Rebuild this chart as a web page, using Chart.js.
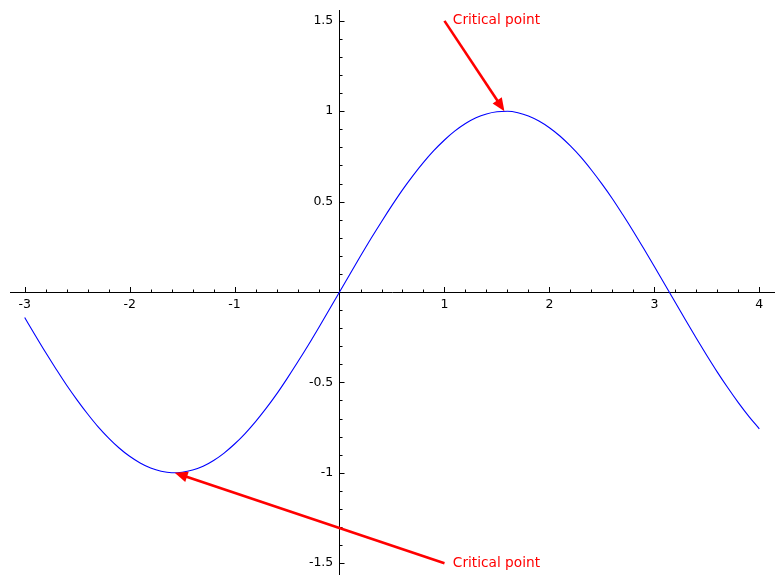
<!DOCTYPE html>
<html>
<head>
<meta charset="utf-8">
<script src="https://cdn.jsdelivr.net/npm/chart.js@4.4.1/dist/chart.umd.min.js"></script>
<style>
  body { margin: 0; background: #fff; }
  #wrap { width: 784px; height: 584px; }
</style>
</head>
<body>
<div id="wrap"><canvas id="plot" width="784" height="584"></canvas></div>
<script>
// curve, x from -3 to 4 in steps of 0.1
const xValues = [
  -3.0, -2.9, -2.8, -2.7, -2.6, -2.5, -2.4, -2.3, -2.2, -2.1,
  -2.0, -1.9, -1.8, -1.7, -1.6, -1.5, -1.4, -1.3, -1.2, -1.1,
  -1.0, -0.9, -0.8, -0.7, -0.6, -0.5, -0.4, -0.3, -0.2, -0.1,
  0.0, 0.1, 0.2, 0.3, 0.4, 0.5, 0.6, 0.7, 0.8, 0.9,
  1.0, 1.1, 1.2, 1.3, 1.4, 1.5, 1.6, 1.7, 1.8, 1.9,
  2.0, 2.1, 2.2, 2.3, 2.4, 2.5, 2.6, 2.7, 2.8, 2.9,
  3.0, 3.1, 3.2, 3.3, 3.4, 3.5, 3.6, 3.7, 3.8, 3.9, 4.0
];
const curveValues = [
  -0.141, -0.239, -0.335, -0.427, -0.516, -0.598, -0.675, -0.746, -0.808, -0.863,
  -0.909, -0.946, -0.974, -0.992, -1.0, -0.997, -0.985, -0.964, -0.932, -0.891,
  -0.841, -0.783, -0.717, -0.644, -0.565, -0.479, -0.389, -0.296, -0.199, -0.1,
  0.0, 0.1, 0.199, 0.296, 0.389, 0.479, 0.565, 0.644, 0.717, 0.783,
  0.841, 0.891, 0.932, 0.964, 0.985, 0.997, 1.0, 0.992, 0.974, 0.946,
  0.909, 0.863, 0.808, 0.746, 0.675, 0.598, 0.516, 0.427, 0.335, 0.239,
  0.141, 0.042, -0.058, -0.158, -0.256, -0.351, -0.443, -0.530, -0.612, -0.688, -0.757
];

const xTicks = [-3, -2, -1, 1, 2, 3, 4];
const xTickLabels = ["-3", "-2", "-1", "1", "2", "3", "4"];
const yTicks = [-1.5, -1, -0.5, 0.5, 1, 1.5];
const yTickLabels = ["-1.5", "-1", "-0.5", "0.5", "1", "1.5"];

// minor ticks every 0.2 on x, 0.1 on y
const xMinorTicks = [-3.0, -2.8, -2.6, -2.4, -2.2, -2.0, -1.8, -1.6, -1.4, -1.2, -1.0, -0.8, -0.6, -0.4, -0.2,
  0.2, 0.4, 0.6, 0.8, 1.0, 1.2, 1.4, 1.6, 1.8, 2.0, 2.2, 2.4, 2.6, 2.8, 3.0, 3.2, 3.4, 3.6, 3.8, 4.0];
const yMinorTicks = [-1.5, -1.4, -1.3, -1.2, -1.1, -1.0, -0.9, -0.8, -0.7, -0.6, -0.5, -0.4, -0.3, -0.2, -0.1,
  0.1, 0.2, 0.3, 0.4, 0.5, 0.6, 0.7, 0.8, 0.9, 1.0, 1.1, 1.2, 1.3, 1.4, 1.5];

// annotations: arrow tail -> arrow head, and text anchor
const arrowFrom = [[1, 1.5], [1, -1.5]];
const arrowTo = [[1.571, 1.0], [-1.571, -1.0]];
const noteAt = [[1.08, 1.5], [1.08, -1.5]];
const noteText = ["Critical point", "Critical point"];

const FONT = "'DejaVu Sans', sans-serif";

const points = xValues.map((x, i) => ({ x: x, y: curveValues[i] }));

const extras = {
  id: "extras",
  afterDatasetsDraw(chart) {
    const ctx = chart.ctx;
    const xs = chart.scales.x;
    const ys = chart.scales.y;
    const x0 = xs.getPixelForValue(0);
    const y0 = ys.getPixelForValue(0);

    ctx.save();
    ctx.strokeStyle = "#000";
    ctx.lineWidth = 1;
    ctx.beginPath();
    xMinorTicks.forEach(v => {
      const px = Math.round(xs.getPixelForValue(v)) + 0.5;
      const len = xTicks.includes(v) ? 5 : 2.5;
      ctx.moveTo(px, y0);
      ctx.lineTo(px, y0 - len);
    });
    yMinorTicks.forEach(v => {
      const py = Math.round(ys.getPixelForValue(v)) + 0.5;
      const len = yTicks.includes(v) ? 5 : 3;
      ctx.moveTo(x0, py);
      ctx.lineTo(x0 + len, py);
    });
    ctx.stroke();

    // arrows
    ctx.strokeStyle = "#ff0000";
    ctx.fillStyle = "#ff0000";
    arrowFrom.forEach((from, i) => {
      const ax = xs.getPixelForValue(from[0]);
      const ay = ys.getPixelForValue(from[1]);
      const bx = xs.getPixelForValue(arrowTo[i][0]);
      const by = ys.getPixelForValue(arrowTo[i][1]);
      const ang = Math.atan2(by - ay, bx - ax);
      const headLen = 13;
      const headHalf = 5.5;
      const sx = bx - Math.cos(ang) * (headLen - 2);
      const sy = by - Math.sin(ang) * (headLen - 2);
      ctx.lineWidth = 2.6;
      ctx.lineCap = "butt";
      ctx.beginPath();
      ctx.moveTo(ax, ay);
      ctx.lineTo(sx, sy);
      ctx.stroke();
      const hx = bx - Math.cos(ang) * headLen;
      const hy = by - Math.sin(ang) * headLen;
      ctx.beginPath();
      ctx.moveTo(bx, by);
      ctx.lineTo(hx - Math.sin(ang) * headHalf, hy + Math.cos(ang) * headHalf);
      ctx.lineTo(hx + Math.sin(ang) * headHalf, hy - Math.cos(ang) * headHalf);
      ctx.closePath();
      ctx.fill();
    });

    ctx.font = "13.7px " + FONT;
    ctx.textAlign = "left";
    ctx.textBaseline = "middle";
    noteAt.forEach((p, i) => {
      ctx.fillText(noteText[i], xs.getPixelForValue(p[0]), ys.getPixelForValue(p[1]));
    });
    ctx.restore();
  }
};

new Chart(document.getElementById("plot"), {
  type: "line",
  data: {
    datasets: [{
      data: points,
      borderColor: "#0000ff",
      borderWidth: 1.1,
      pointRadius: 0,
      fill: false,
      cubicInterpolationMode: "monotone"
    }]
  },
  options: {
    responsive: false,
    animation: false,
    devicePixelRatio: 1,
    layout: { padding: 10 },
    plugins: { legend: { display: false }, tooltip: { enabled: false } },
    scales: {
      x: {
        type: "linear",
        min: -3.14,
        max: 4.14,
        position: { y: 0 },
        grid: { display: false, drawTicks: false },
        border: { display: true, color: "#000", width: 1 },
        afterBuildTicks: s => { s.ticks = xTicks.map(v => ({ value: v })); },
        afterFit: s => { s.paddingLeft = 0; s.paddingRight = 0; },
        ticks: {
          autoSkip: false,
          maxRotation: 0,
          padding: 5,
          color: "#000",
          font: { family: FONT, size: 12.5 },
          callback: (v, i) => xTickLabels[i]
        }
      },
      y: {
        type: "linear",
        min: -1.56,
        max: 1.56,
        position: { x: 0 },
        grid: { display: false, drawTicks: false },
        border: { display: true, color: "#000", width: 1 },
        afterBuildTicks: s => { s.ticks = yTicks.map(v => ({ value: v })); },
        afterFit: s => { s.paddingTop = 0; s.paddingBottom = 0; },
        ticks: {
          autoSkip: false,
          padding: 6,
          color: "#000",
          font: { family: FONT, size: 12.5 },
          // en space keeps the label clear of the axis line
          callback: (v, i) => yTickLabels[i] + "\u2002"
        }
      }
    }
  },
  plugins: [extras]
});
</script>
</body>
</html>
